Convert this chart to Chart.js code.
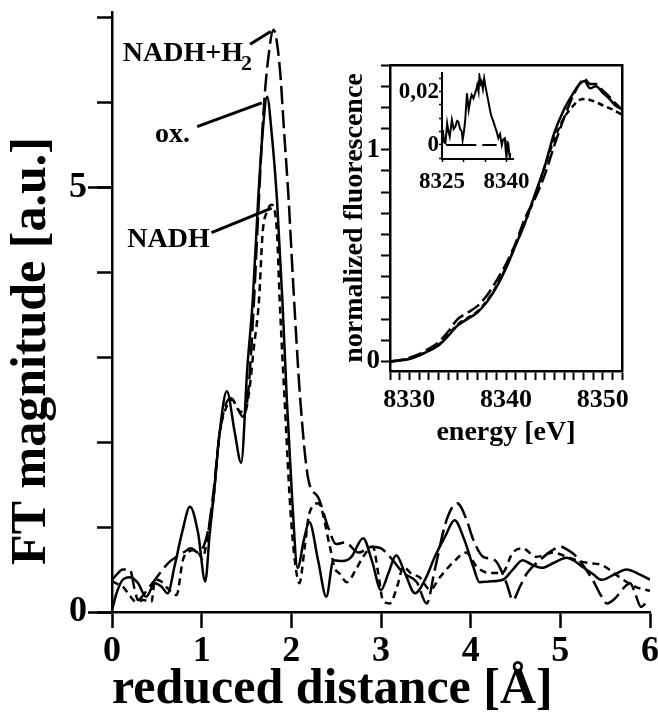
<!DOCTYPE html>
<html><head><meta charset="utf-8">
<script src="https://cdn.jsdelivr.net/npm/chart.js@4.4.1/dist/chart.umd.min.js"></script>
<style>
html,body{margin:0;padding:0;background:#fff;}
#wrap{position:relative;width:658px;height:715px;overflow:hidden;background:#fff;}
canvas{position:absolute;}
</style></head>
<body><div id="wrap">
<canvas id="main" width="658" height="715" style="left:0;top:0;width:658px;height:715px"></canvas>
<canvas id="inset" width="300" height="400" style="left:330px;top:55px;width:300px;height:400px"></canvas>
<canvas id="inner" width="150" height="140" style="left:390px;top:60px;width:150px;height:140px"></canvas>
</div>
<script>
// ---------- main FT data (reduced distance in Å, FT magnitude in a.u.) ----------
const rOx   = [0,0.05,0.12,0.2,0.29,0.38,0.48,0.55,0.62,0.7,0.78,0.87,0.96,1.04,1.09,1.13,1.2,1.28,1.37,1.44,1.51,1.57,1.63,1.68,1.73,1.78,1.84,1.9,1.95,2.01,2.07,2.14,2.2,2.3,2.39,2.47,2.57,2.67,2.8,2.9,3.0,3.08,3.17,3.27,3.38,3.5,3.6,3.72,3.82,3.93,4.03,4.1,4.2,4.36,4.47,4.58,4.68,4.79,4.93,5.07,5.16,5.25,5.36,5.46,5.6,5.74,5.87,6.0];
const ftOx  = [0.02,0.22,0.38,0.41,0.34,0.18,0.34,0.3,0.22,0.55,0.93,1.24,0.93,0.36,0.93,1.32,2.11,2.6,2.11,1.76,2.89,3.68,4.86,5.65,6.07,5.65,4.86,3.68,2.5,1.32,0.52,0.85,1.06,0.6,0.18,0.61,0.6,0.65,0.87,0.6,0.26,0.45,0.67,0.45,0.22,0.4,0.65,0.9,1.08,0.85,0.53,0.35,0.36,0.38,0.5,0.61,0.56,0.52,0.58,0.64,0.6,0.53,0.45,0.38,0.44,0.5,0.45,0.38];
const rH2   = [0,0.06,0.12,0.2,0.25,0.29,0.35,0.42,0.48,0.55,0.64,0.72,0.81,0.88,0.96,1.07,1.13,1.2,1.27,1.33,1.4,1.46,1.52,1.58,1.64,1.69,1.74,1.8,1.87,1.92,1.97,2.02,2.1,2.19,2.3,2.41,2.5,2.6,2.75,2.9,3.0,3.1,3.25,3.4,3.51,3.6,3.73,3.85,3.95,4.03,4.14,4.27,4.4,4.47,4.55,4.63,4.77,4.9,5.0,5.1,5.18,5.36,5.45,5.52,5.6,5.66,5.72,5.78,5.84,5.9,5.95,6.0];
const ftH2  = [0.38,0.45,0.5,0.5,0.28,0.14,0.2,0.3,0.38,0.48,0.59,0.65,0.71,0.75,0.7,0.95,1.4,2.1,2.45,2.52,2.4,2.3,2.6,3.6,4.9,5.9,6.5,6.86,6.43,5.65,4.86,3.88,2.5,1.56,1.35,1.0,0.8,0.82,0.7,0.77,0.75,0.65,0.46,0.35,0.1,0.5,1.08,1.28,1.1,0.85,0.65,0.61,0.34,0.14,0.3,0.46,0.61,0.72,0.77,0.72,0.65,0.38,0.2,0.1,0.15,0.22,0.3,0.34,0.2,0.06,0.1,0.14];
const rNadh = [0,0.06,0.12,0.18,0.27,0.35,0.44,0.48,0.55,0.62,0.72,0.79,0.85,0.94,1.01,1.07,1.13,1.2,1.27,1.34,1.41,1.48,1.53,1.58,1.64,1.68,1.73,1.78,1.84,1.87,1.93,1.99,2.04,2.09,2.15,2.2,2.3,2.43,2.48,2.54,2.62,2.72,2.8,2.91,2.97,3.02,3.1,3.18,3.25,3.34,3.43,3.55,3.65,3.8,3.95,4.07,4.21,4.35,4.47,4.58,4.73,4.92,5.05,5.18,5.3,5.47,5.66,5.83,5.96,6.0];
const ftNadh= [0.36,0.33,0.3,0.22,0.12,0.14,0.12,0.38,0.36,0.28,0.2,0.61,0.71,0.73,0.63,0.93,1.32,2.1,2.4,2.5,2.38,2.35,2.6,3.1,3.68,4.47,4.72,4.8,4.47,3.68,2.4,1.2,0.6,0.34,0.77,1.16,1.28,0.77,0.53,0.45,0.35,0.5,0.65,0.77,0.45,0.14,0.1,0.3,0.53,0.45,0.41,0.26,0.4,0.58,0.7,0.53,0.46,0.46,0.7,0.75,0.65,0.7,0.66,0.61,0.58,0.55,0.41,0.3,0.26,0.25];
const mainYLabels = [0, 5];

// ---------- inset XANES data (energy in eV, normalized fluorescence) ----------
const eOx    = [8328,8329,8330,8331,8332,8333,8334,8335,8336,8337,8338,8339,8340,8341,8342,8343,8344,8345,8346,8347,8347.6,8348.1,8348.7,8349.3,8350,8350.7,8351.3,8352];
const nfOx   = [0,0.005,0.012,0.028,0.05,0.075,0.12,0.17,0.2,0.23,0.28,0.35,0.44,0.55,0.66,0.79,0.92,1.08,1.19,1.27,1.31,1.325,1.29,1.3,1.27,1.24,1.21,1.19];
const eH2    = [8328,8329,8330,8331,8332,8333,8334,8335,8336,8337,8338,8339,8340,8341,8342,8343,8344,8345,8346,8347,8347.6,8348.1,8348.7,8349.3,8350,8350.7,8351.3,8352];
const nfH2   = [0,0.006,0.018,0.035,0.06,0.09,0.14,0.2,0.23,0.26,0.31,0.38,0.46,0.56,0.68,0.77,0.88,1.02,1.15,1.26,1.31,1.335,1.31,1.31,1.28,1.25,1.22,1.19];
const eNadh  = [8328,8329,8330,8331,8332,8333,8334,8335,8336,8337,8338,8339,8340,8341,8342,8343,8344,8345,8346,8347,8347.6,8348.1,8349,8350,8351,8352];
const nfNadh = [0,0.005,0.013,0.03,0.05,0.078,0.125,0.175,0.205,0.235,0.285,0.355,0.445,0.55,0.66,0.78,0.92,1.05,1.15,1.21,1.235,1.24,1.23,1.21,1.19,1.165];
const insetYLabels = [0, 1];
const insetXLabels = [8330, 8340, 8350];

// ---------- inner inset: difference spectrum ----------
const eDiff = [8325,8325.2,8325.5,8325.8,8326.2,8326.5,8326.8,8327.3,8327.7,8328.1,8328.5,8328.8,8329.2,8329.6,8329.8,8330.1,8330.4,8330.8,8331.2,8331.6,8331.9,8332.3,8332.7,8333,8333.2,8333.5,8333.7,8334,8334.2,8334.5,8334.8,8335.1,8335.4,8335.7,8336,8336.3,8336.5,8336.9,8337.3,8337.7,8338.1,8338.5,8338.9,8339.2,8339.6,8339.8,8340,8340.2,8340.4,8340.6,8340.8];
const dDiff = [0.002,0.0056,0.001,0.0006,0.0081,0.005,0.0031,0.0094,0.006,0.0069,0.009,0.0087,0.006,0.005,0.0019,0.005,0.0094,0.0194,0.0131,0.017,0.0188,0.0175,0.0194,0.021,0.0225,0.02,0.0259,0.023,0.0238,0.021,0.025,0.022,0.0194,0.017,0.0144,0.012,0.0106,0.009,0.0069,0.005,0.0025,0.004,0,0.002,0.0025,-0.002,-0.005,0.001,0.0006,-0.003,-0.005];
const eZero = [8326, 8337.7];
const dZero = [0, 0];
const innerYLabels = ['0', '0,02'];
const innerXLabels = [8325, 8340];

const FONT = "'Liberation Serif','Times New Roman',Times,serif";
const pts = (xs, ys) => xs.slice(0, Math.min(xs.length, ys.length)).map((v, i) => ({x: v, y: ys[i]}));
const zeroPad = s => { s.paddingLeft = 0; s.paddingRight = 0; s.paddingTop = 0; s.paddingBottom = 0; };
const lineDS = (label, data, dash, w) => ({label, data, borderColor:'#000', borderWidth: w, borderDash: dash, pointRadius:0, fill:false, cubicInterpolationMode:'monotone'});

// annotation labels with leader lines (data coordinates)
const notes = [
  {text:'NADH+H', sub:'2', at:[0.12, 6.49], from:[1.54, 6.69], to:[1.77, 6.84]},
  {text:'ox.', at:[0.48, 5.54], from:[0.95, 5.72], to:[1.67, 6.0]},
  {text:'NADH', at:[0.17, 4.30], from:[1.11, 4.47], to:[1.78, 4.76]}
];

const notePlugin = {
  id: 'notes',
  afterDatasetsDraw(chart) {
    const {ctx} = chart; const xs = chart.scales.x, ys = chart.scales.y;
    ctx.save();
    ctx.fillStyle = '#000'; ctx.strokeStyle = '#000'; ctx.lineWidth = 3; ctx.lineCap = 'butt';
    ctx.textBaseline = 'alphabetic'; ctx.textAlign = 'left';
    for (const n of notes) {
      const px = xs.getPixelForValue(n.at[0]), py = ys.getPixelForValue(n.at[1]);
      ctx.font = 'bold 28px ' + FONT;
      ctx.fillText(n.text, px, py);
      if (n.sub) {
        const w = ctx.measureText(n.text).width;
        ctx.font = 'bold 22px ' + FONT;
        ctx.fillText(n.sub, px + w - 2, py + 9);
      }
      ctx.beginPath();
      ctx.moveTo(xs.getPixelForValue(n.from[0]), ys.getPixelForValue(n.from[1]));
      ctx.lineTo(xs.getPixelForValue(n.to[0]), ys.getPixelForValue(n.to[1]));
      ctx.stroke();
    }
    // y-axis title
    ctx.font = 'bold 50px ' + FONT;
    ctx.translate(45, 351); ctx.rotate(-Math.PI / 2);
    ctx.textAlign = 'center'; ctx.textBaseline = 'alphabetic';
    ctx.fillText('FT magnitude [a.u.]', 0, 0);
    ctx.restore();
  }
};

const frameAxis = (pos) => ({
  type:'linear', position: pos, display:true,
  afterFit: s => { if (pos==='top') s.height = 0; else s.width = 0; zeroPad(s); },
  border:{display:true, color:'#000', width:2.5},
  grid:{display:false}, ticks:{display:false}
});

// ---------- main chart ----------
new Chart(document.getElementById('main'), {
  type:'line',
  data:{datasets:[
    lineDS('ox.', pts(rOx, ftOx), [], 2.5),
    lineDS('NADH+H2', pts(rH2, ftH2), [18, 6], 2.5),
    lineDS('NADH', pts(rNadh, ftNadh), [7, 5], 2.5)
  ]},
  options:{
    responsive:false, animation:false, devicePixelRatio:1,
    layout:{padding:{top:12, right:8, left:0, bottom:0}},
    plugins:{legend:{display:false}, tooltip:{enabled:false}},
    scales:{
      x:{type:'linear', min:0, max:6,
        afterFit: s => { s.height = 103; zeroPad(s); },
        border:{color:'#000', width:2.5},
        grid:{drawOnChartArea:false, drawTicks:true, tickLength:16, tickColor:'#000', tickWidth:2.5},
        ticks:{stepSize:1, includeBounds:false, maxTicksLimit:100, autoSkip:false, maxRotation:0, color:'#000', padding:2,
          font:{family:FONT, size:36, weight:'bold'}, callback: v => String(v)},
        title:{display:true, text:'reduced distance [Å]', align:'start', color:'#000',
          font:{family:FONT, size:50, weight:'bold', lineHeight:1}, padding:{top:0, bottom:0}}
      },
      y:{type:'linear', min:0, max:7.07, position:'left', weight:1,
        afterFit: s => { s.width = 112; zeroPad(s); },
        border:{color:'#000', width:2.5},
        grid:{drawOnChartArea:false, drawTicks:true, tickLength:24, tickColor:'#000', tickWidth:2.5},
        ticks:{stepSize:5, includeBounds:false, autoSkip:false, color:'#000', padding:1,
          font:{family:FONT, size:36, weight:'bold'},
          callback: v => mainYLabels.includes(v) ? String(v) : ''}
      },
      yMinor:{type:'linear', min:0, max:7.07, position:'left', weight:0,
        afterFit: s => { s.width = 0; zeroPad(s); },
        border:{display:false},
        grid:{drawOnChartArea:false, drawTicks:true, tickLength:15, tickColor:'#000', tickWidth:2.5},
        ticks:{stepSize:1, includeBounds:false, maxTicksLimit:100, autoSkip:false, padding:0, callback: () => ''}
      }
    }
  },
  plugins:[notePlugin]
});

// ---------- inset chart ----------
new Chart(document.getElementById('inset'), {
  type:'line',
  data:{datasets:[
    lineDS('ox.', pts(eOx, nfOx), [], 2.5),
    lineDS('NADH+H2', pts(eH2, nfH2), [14, 5], 2.5),
    lineDS('NADH', pts(eNadh, nfNadh), [6, 4], 2.5)
  ]},
  options:{
    responsive:false, animation:false, devicePixelRatio:1,
    layout:{padding:{top:10, right:8, left:0, bottom:0}},
    plugins:{legend:{display:false}, tooltip:{enabled:false}},
    scales:{
      x:{type:'linear', min:8328, max:8352,
        afterFit: s => { s.height = 84; zeroPad(s); },
        border:{color:'#000', width:2.5},
        grid:{drawOnChartArea:false, drawTicks:true, tickLength:9, tickColor:'#000', tickWidth:2},
        ticks:{stepSize:1, includeBounds:false, maxTicksLimit:100, autoSkip:false, maxRotation:0, color:'#000', padding:5,
          font:{family:FONT, size:26, weight:'bold'},
          callback: v => insetXLabels.includes(v) ? String(v) : ''},
        title:{display:true, text:'energy [eV]', color:'#000',
          font:{family:FONT, size:28, weight:'bold', lineHeight:1}, padding:{top:0, bottom:8}}
      },
      y:{type:'linear', min:-0.045, max:1.4, position:'left',
        afterFit: s => { s.width = 60; zeroPad(s); },
        border:{color:'#000', width:2.5},
        grid:{drawOnChartArea:false, drawTicks:true, tickLength:9, tickColor:'#000', tickWidth:2},
        ticks:{stepSize:0.1, includeBounds:false, maxTicksLimit:100, autoSkip:false, color:'#000', padding:1,
          font:{family:FONT, size:27, weight:'bold'},
          callback: v => insetYLabels.some(t => Math.abs(t - v) < 1e-9) ? String(Math.round(v)) : ''},
        title:{display:true, text:'normalized fluorescence', color:'#000',
          font:{family:FONT, size:28, weight:'bold', lineHeight:1}, padding:{top:11, bottom:0}}
      },
      xTop: Object.assign(frameAxis('top'), {min:8328, max:8352}),
      yRight: Object.assign(frameAxis('right'), {min:-0.045, max:1.4})
    }
  }
});

// ---------- inner inset chart ----------
new Chart(document.getElementById('inner'), {
  type:'line',
  data:{datasets:[
    Object.assign(lineDS('difference', pts(eDiff, dDiff), [], 2), {cubicInterpolationMode:'default', tension:0}),
    Object.assign(lineDS('zero', pts(eZero, dZero), [30, 6], 2), {cubicInterpolationMode:'default', tension:0})
  ]},
  options:{
    responsive:false, animation:false, devicePixelRatio:1,
    layout:{padding:{top:13, right:27, left:0, bottom:0}},
    plugins:{legend:{display:false}, tooltip:{enabled:false}},
    scales:{
      x:{type:'linear', min:8325, max:8341.5,
        afterFit: s => { s.height = 41; zeroPad(s); },
        border:{color:'#000', width:2},
        grid:{drawOnChartArea:false, drawTicks:true, tickLength:3, tickColor:'#000', tickWidth:1.5},
        ticks:{stepSize:5, includeBounds:false, maxTicksLimit:100, autoSkip:false, maxRotation:0, color:'#000', padding:6,
          font:{family:FONT, size:23, weight:'bold'},
          callback: v => innerXLabels.some(t => Math.abs(t - v) < 1e-6) ? String(Math.round(v)) : ''}
      },
      y:{type:'linear', min:-0.0053, max:0.027, position:'left',
        afterFit: s => { s.width = 52; zeroPad(s); },
        border:{color:'#000', width:2},
        grid:{drawOnChartArea:false, drawTicks:true, tickLength:3, tickColor:'#000', tickWidth:1.5},
        ticks:{stepSize:0.005, includeBounds:false, maxTicksLimit:100, autoSkip:false, color:'#000', padding:0,
          font:{family:FONT, size:23, weight:'bold'},
          callback: v => Math.abs(v) < 1e-9 ? innerYLabels[0] : (Math.abs(v - 0.02) < 1e-9 ? innerYLabels[1] : '')}
      }
    }
  }
});
</script>
</body></html>
